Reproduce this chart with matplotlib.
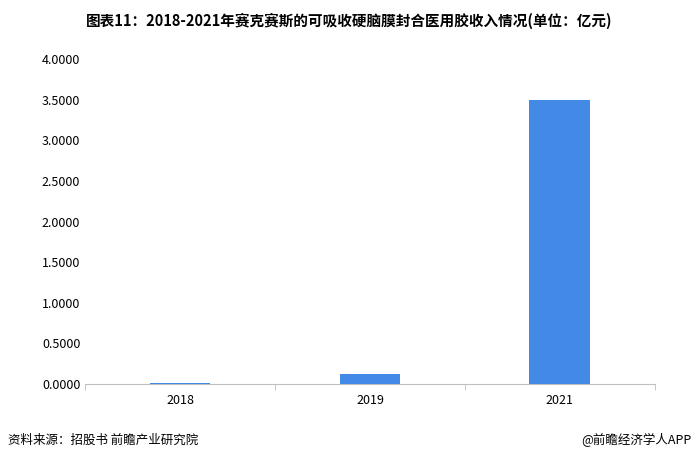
import matplotlib.pyplot as plt

plt.rcParams['font.family'] = ['Noto Sans CJK SC', 'DejaVu Sans']

years = ['2018', '2019', '2021']
revenue = [0.012, 0.12, 3.50]
yticks = [0, 0.5, 1.0, 1.5, 2.0, 2.5, 3.0, 3.5, 4.0]

fig = plt.figure(figsize=(6.98, 4.61), dpi=100)
ax = fig.add_axes([0.122, 0.167, 0.816, 0.705])

ax.bar(range(len(years)), revenue, width=0.32, color='#4389E6', zorder=3)
ax.set_xlim(-0.5, 2.5)
ax.set_ylim(0, 4.0)
ax.set_xticks(range(len(years)))
ax.set_xticklabels(years, fontsize=9)
ax.set_xticks([-0.5, 0.5, 1.5, 2.5], minor=True)
ax.set_yticks(yticks)
ax.set_yticklabels([f'{v:.4f}' for v in yticks], fontsize=9)
for s in ['top', 'right', 'left']:
    ax.spines[s].set_visible(False)
ax.spines['bottom'].set_color('#BFBFBF')
ax.spines['bottom'].set_zorder(1)
ax.tick_params(axis='y', length=0)
ax.tick_params(axis='x', which='major', length=0, pad=7)
ax.tick_params(axis='x', which='minor', length=4, color='#BFBFBF')

fig.text(0.5, 0.955, '图表11：2018-2021年赛克赛斯的可吸收硬脑膜封合医用胶收入情况(单位：亿元)',
         ha='center', va='center', fontsize=10.5, fontweight='bold')
fig.text(0.012, 0.045, '资料来源：招股书 前瞻产业研究院', ha='left', va='center', fontsize=9)
fig.text(0.99, 0.045, '@前瞻经济学人APP', ha='right', va='center', fontsize=9)

fig.savefig('out.png', dpi=100)
